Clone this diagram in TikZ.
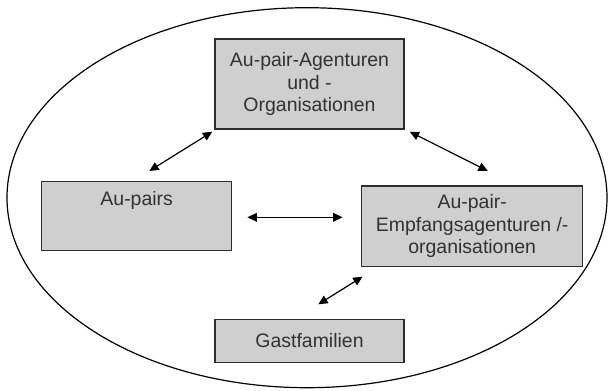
\documentclass[tikz,border=0pt]{standalone}
\usepackage{fontspec}
\setmainfont{Liberation Sans}
\usetikzlibrary{arrows.meta,calc}
\definecolor{boxfill}{RGB}{207,207,207}
\definecolor{boxline}{RGB}{45,45,45}
\definecolor{txt}{RGB}{50,50,50}
\tikzset{
  box/.style={draw=boxline, fill=boxfill, line width=1.1pt, align=center, text=txt,
    font=\fontsize{14.6pt}{16.9pt}\selectfont, inner sep=0pt},
  link/.style={draw=black, line width=0.9pt, {Triangle[length=7pt,width=6.5pt]}-{Triangle[length=7pt,width=6.5pt]}}
}
\begin{document}
\begin{tikzpicture}[x=0.75pt,y=-0.75pt]
\useasboundingbox (0,0) rectangle (608,390);
\draw[line width=0.9pt] (307,197.7) ellipse [x radius=300, y radius=190];
\node[box, minimum width=141.75pt, minimum height=67.5pt] (top) at (309.5,84)
  {Au-pair-Agenturen\\und -\\Organisationen};
\node[box, minimum width=142.5pt, minimum height=51.75pt,
  label={[anchor=north, yshift=-4pt, text=txt, font=\fontsize{14.6pt}{16.9pt}\selectfont]north:Au-pairs}] (aupairs) at (136.7,216.2) {};
\node[box, minimum width=165.75pt, minimum height=60.5pt] (empf) at (472.2,226.3)
  {Au-pair-\\Empfangsagenturen /-\\organisationen};
\node[box, minimum width=141.75pt, minimum height=32.5pt] (gast) at (309.5,341)
  {Gastfamilien};
\draw[link] ($(top.south west)+(-2,2)$) -- ($(aupairs.north)+(12.6,-10)$);
\draw[link] ($(top.south east)+(5,2)$) -- ($(empf.north)+(15.6,-14.3)$);
\draw[link] ($(aupairs.east)+(15,1.1)$) -- ($(empf.west)+(-18.4,-9)$);
\draw[link] ($(gast.north)+(8.8,-14.3)$) -- ($(empf.south west)+(1.6,9.3)$);
\end{tikzpicture}
\end{document}
